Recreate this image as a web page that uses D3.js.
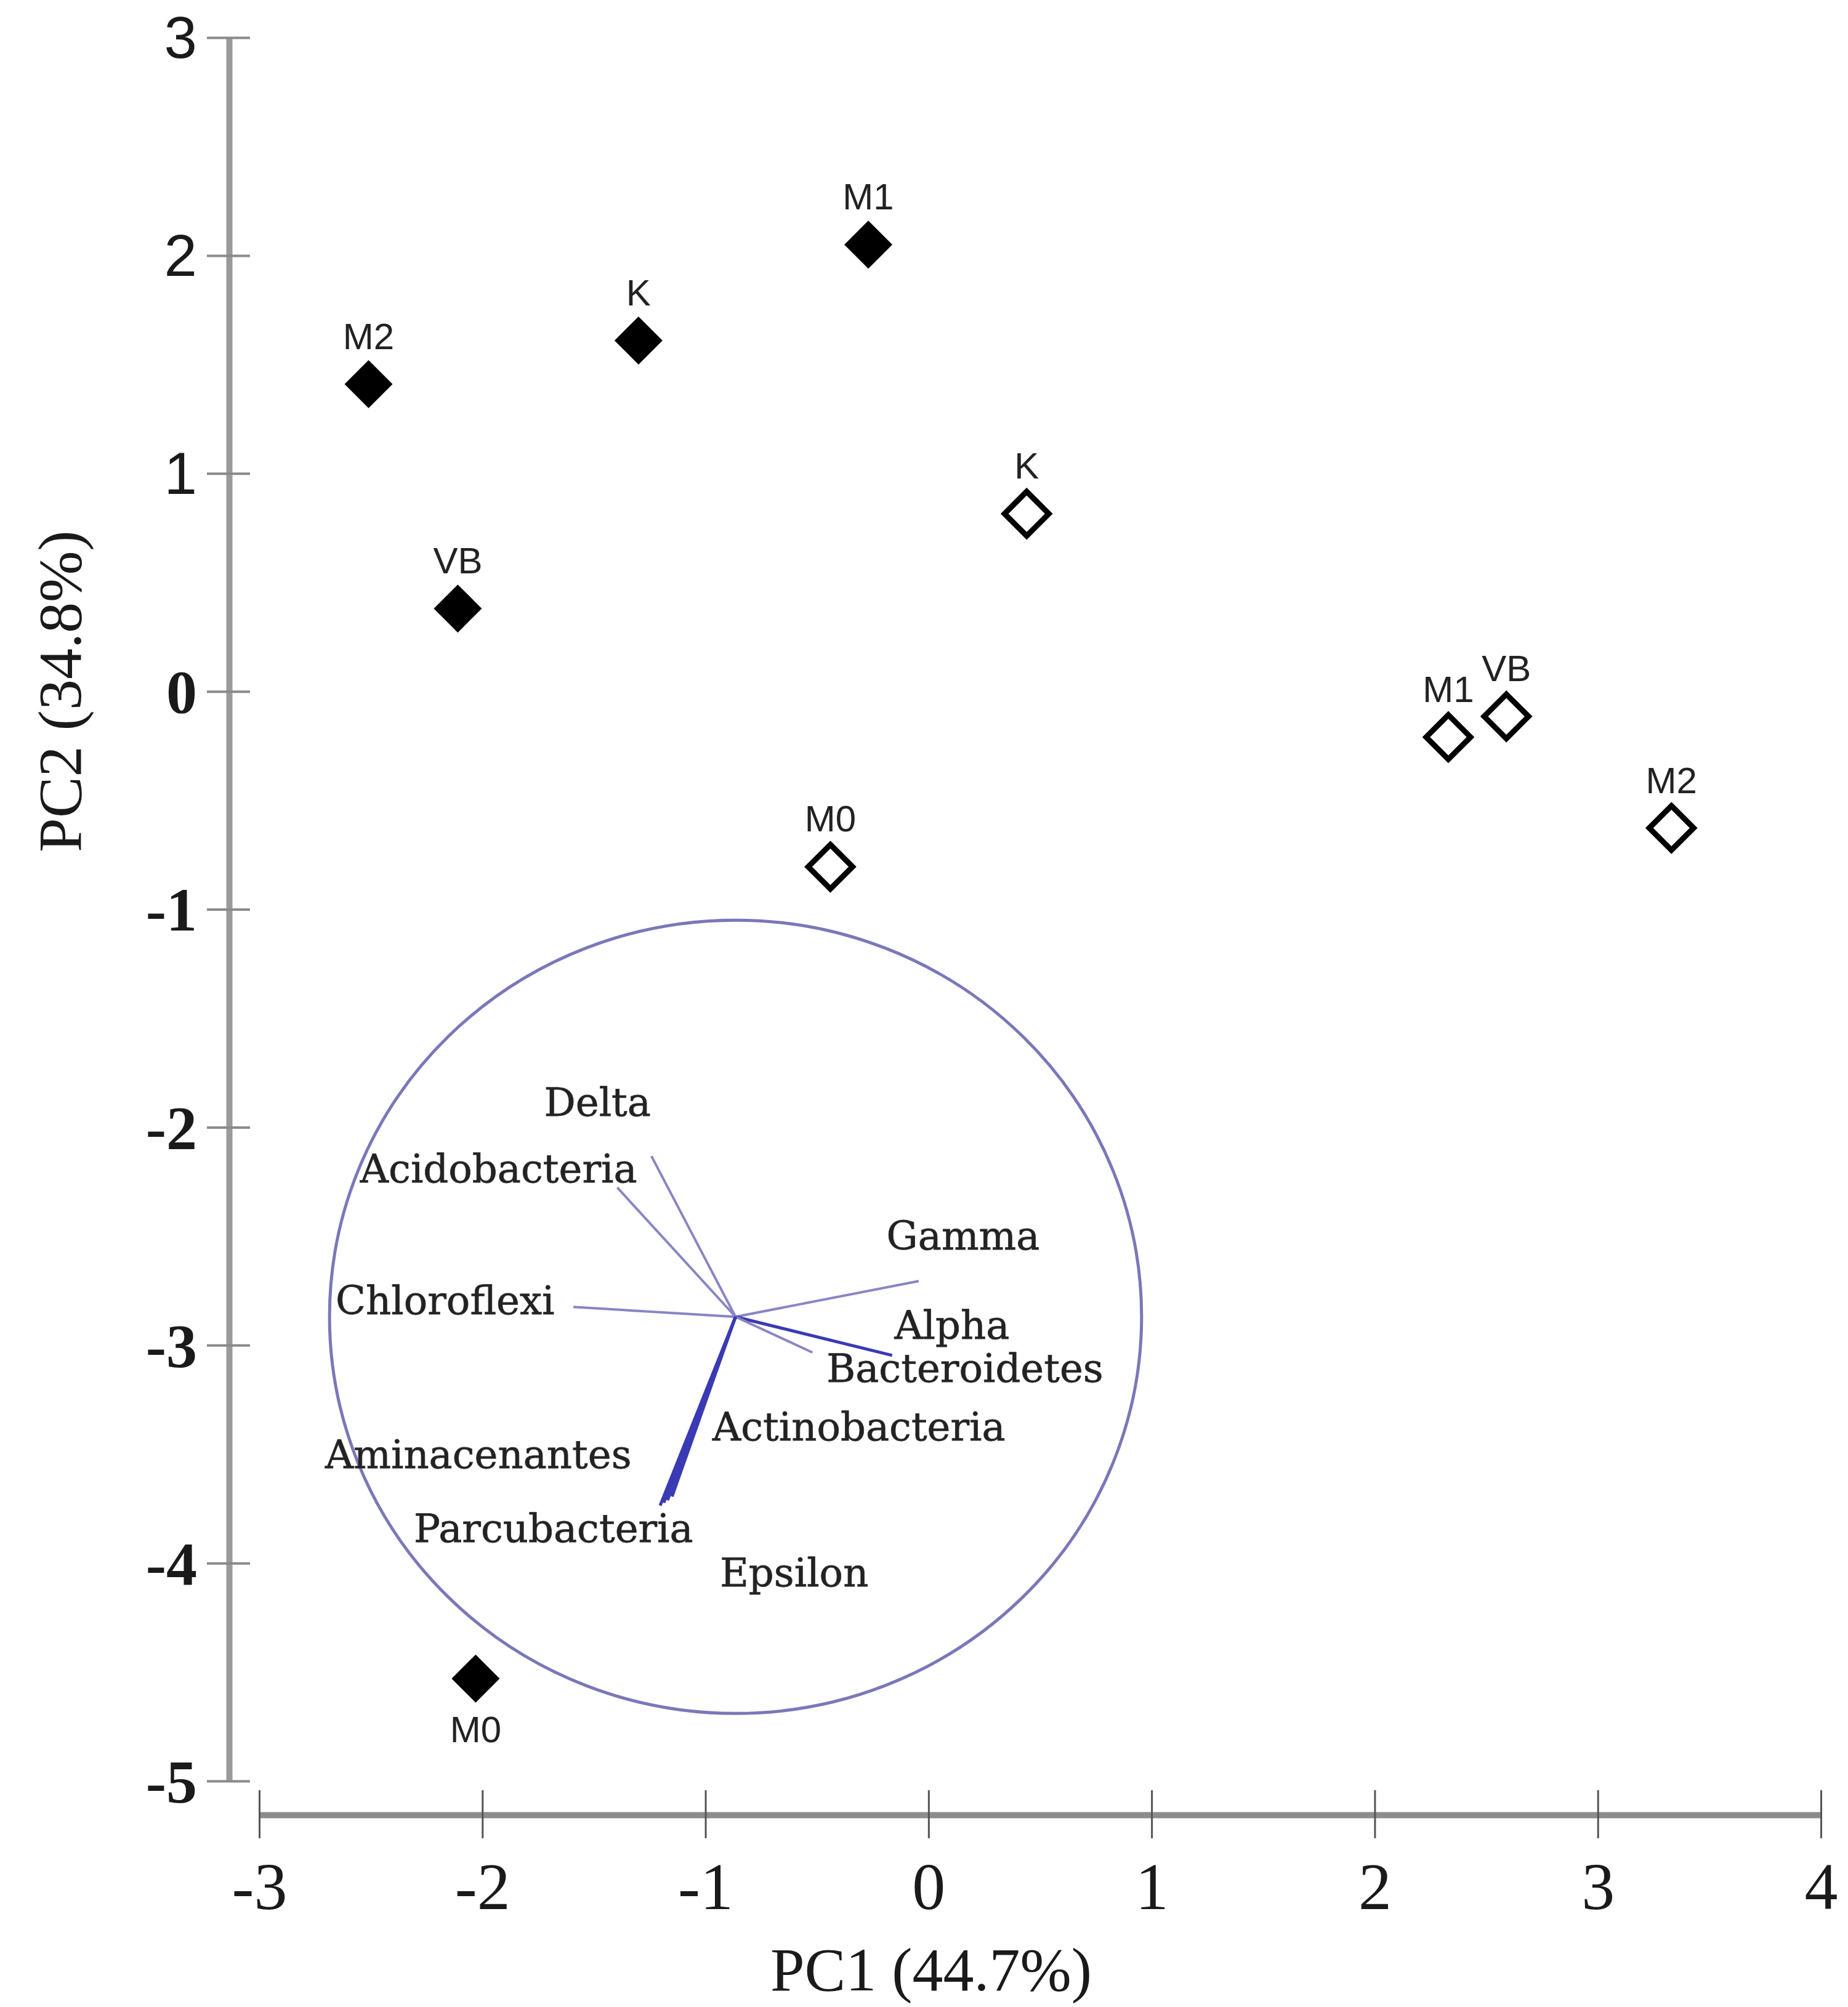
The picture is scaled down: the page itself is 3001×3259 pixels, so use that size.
<!DOCTYPE html>
<html>
<head>
<meta charset="utf-8">
<script src="https://cdn.jsdelivr.net/npm/d3@7"></script>
<style>
body { margin: 0; background: #fff; }
</style>
</head>
<body>
<div id="chart"></div>
<script>
var width = 3001;
var height = 3259;

// sample scores
var sampleNames = ["M2", "K", "M1", "VB", "M0", "K", "M0", "M1", "VB", "M2"];
var samplePC1 = [-2.51, -1.30, -0.27, -2.11, -2.03, 0.44, -0.44, 2.33, 2.59, 3.33];
var samplePC2 = [1.41, 1.61, 2.05, 0.38, -4.53, 0.815, -0.805, -0.21, -0.115, -0.627];
var sampleFilled = [true, true, true, true, true, false, false, false, false, false];

// correlation circle (drawn in PC units)
var circleCenter = [-0.865, -2.87];
var circleRadius = 1.82;

// loading vectors, relative to the circle centre
var loadNames = ["Delta", "Acidobacteria", "Chloroflexi", "Gamma", "Alpha", "Bacteroidetes",
	"Actinobacteria", "Aminacenantes", "Parcubacteria", "Epsilon"];
var loadPC1 = [-0.377, -0.530, -0.727, 0.821, 0.702, 0.345, -0.285, -0.322, -0.338, -0.305];
var loadPC2 = [0.737, 0.593, 0.045, 0.164, -0.177, -0.164, -0.825, -0.853, -0.866, -0.842];
// where the names sit
var labelPC1 = [-1.484, -1.927, -2.167, 0.155, 0.105, 0.163, -0.312, -2.018, -1.681, -0.602];
var labelPC2 = [-1.895, -2.198, -2.803, -2.508, -2.916, -3.114, -3.384, -3.510, -3.850, -4.052];

var xTicks = [-3, -2, -1, 0, 1, 2, 3, 4];
var yTicks = [3, 2, 1, 0, -1, -2, -3, -4, -5];
var xTitle = "PC1 (44.7%)";
var yTitle = "PC2 (34.8%)";

var serif = "'Liberation Serif', 'Times New Roman', serif";
var sans = "'Liberation Sans', Arial, sans-serif";

var svg = d3.select("#chart")
	.append("svg")
	.attr("width", width)
	.attr("height", height)
	.style("background", "#fff");

var x = d3.scaleLinear().domain([-3, 4]).range([421, 2957]);
var y = d3.scaleLinear().domain([-5, 3]).range([2892, 61]);

var yAxisX = 372;
var xAxisY = 2947;

// y axis
var gy = svg.append("g")
	.attr("transform", "translate(" + yAxisX + ",0)")
	.call(d3.axisLeft(y).tickValues(yTicks).tickSizeOuter(0).tickSize(0).tickFormat((d) => String(d)));
gy.select(".domain").attr("stroke", "#9a9a9a").attr("stroke-width", 10);
gy.selectAll(".tick line")
	.attr("x1", -36).attr("x2", 34)
	.attr("stroke", "#8a8a8a").attr("stroke-width", 4);
gy.selectAll(".tick text")
	.attr("x", -52)
	.attr("dy", "0.34em")
	.attr("fill", "#1a1a1a")
	// the top three labels were set in a sans face in the original
	.style("font-family", (d) => d > 0 ? sans : serif)
	.style("font-size", (d) => d > 0 ? "96px" : "100px")
	.style("font-weight", (d) => d > 0 ? "normal" : "bold");

// x axis
var gx = svg.append("g")
	.attr("transform", "translate(0," + xAxisY + ")")
	.call(d3.axisBottom(x).tickValues(xTicks).tickSizeOuter(0).tickSize(0).tickFormat((d) => String(d)));
gx.select(".domain").attr("stroke", "#8c8c8c").attr("stroke-width", 10);
gx.selectAll(".tick line")
	.attr("y1", -40).attr("y2", 38)
	.attr("stroke", "#555").attr("stroke-width", 3);
gx.selectAll(".tick text")
	.attr("y", 115)
	.attr("dy", "0.35em")
	.attr("fill", "#1a1a1a")
	.style("font-family", serif)
	.style("font-size", "108px");

// axis titles
svg.append("text")
	.attr("x", 1512)
	.attr("y", 3197)
	.attr("dy", "0.35em")
	.attr("text-anchor", "middle")
	.attr("fill", "#1a1a1a")
	.style("font-family", serif)
	.style("font-size", "100px")
	.text(xTitle);

svg.append("text")
	.attr("transform", "translate(96," + y(0) + ") rotate(-90)")
	.attr("dy", "0.35em")
	.attr("text-anchor", "middle")
	.attr("fill", "#1a1a1a")
	.style("font-family", serif)
	.style("font-size", "100px")
	.text(yTitle);

// correlation circle
var cx = x(circleCenter[0]), cy = y(circleCenter[1]);
svg.append("ellipse")
	.attr("cx", cx)
	.attr("cy", cy)
	.attr("rx", x(circleCenter[0] + circleRadius) - cx)
	.attr("ry", y(circleCenter[1] - circleRadius) - cy)
	.attr("fill", "none")
	.attr("stroke", "#7a78b8")
	.attr("stroke-width", 5);

var loadings = loadNames.map(function(n, i) {
	return { name: n, dx: loadPC1[i], dy: loadPC2[i], lx: labelPC1[i], ly: labelPC2[i] };
});

var darkOnes = ["Alpha", "Actinobacteria", "Aminacenantes", "Parcubacteria", "Epsilon"];

svg.append("g")
	.selectAll("line")
	.data(loadings)
	.join("line")
	.attr("x1", cx)
	.attr("y1", cy)
	.attr("x2", (d) => x(circleCenter[0] + d.dx))
	.attr("y2", (d) => y(circleCenter[1] + d.dy))
	.attr("stroke", (d) => darkOnes.indexOf(d.name) >= 0 ? "#3a3ab4" : "#8886c4")
	.attr("stroke-width", (d) => darkOnes.indexOf(d.name) >= 0 ? 5 : 4);

svg.append("g")
	.selectAll("text")
	.data(loadings)
	.join("text")
	.attr("x", (d) => x(d.lx))
	.attr("y", (d) => y(d.ly))
	.attr("dy", "0.3em")
	.attr("text-anchor", "middle")
	.attr("fill", "#222")
	.attr("stroke", "#333")
	.attr("stroke-width", 0.8)
	.style("font-family", "'DejaVu Serif', serif")
	.style("font-size", "64px")
	.text((d) => d.name);

// samples
var samples = sampleNames.map(function(n, i) {
	return { name: n, pc1: samplePC1[i], pc2: samplePC2[i], filled: sampleFilled[i] };
});

function diamond(s) {
	return "M0," + (-s) + "L" + s + ",0L0," + s + "L" + (-s) + ",0Z";
}

var pt = svg.append("g")
	.selectAll("g")
	.data(samples)
	.join("g")
	.attr("transform", (d) => `translate(${x(d.pc1)},${y(d.pc2)})`);

pt.append("path")
	.attr("d", (d) => d.filled ? diamond(39) : diamond(36))
	.attr("fill", (d) => d.filled ? "#000" : "#fff")
	.attr("stroke", "#000")
	.attr("stroke-width", (d) => d.filled ? 0 : 9)
	.attr("stroke-linejoin", "miter");

pt.append("text")
	.attr("x", 0)
	// M0 of the filled set has its label underneath
	.attr("y", (d) => (d.filled && d.pc2 < -4) ? 103 : -57)
	.attr("text-anchor", "middle")
	.attr("fill", "#222")
	.style("font-family", sans)
	.style("font-size", "60px")
	.text((d) => d.name);
</script>
</body>
</html>
